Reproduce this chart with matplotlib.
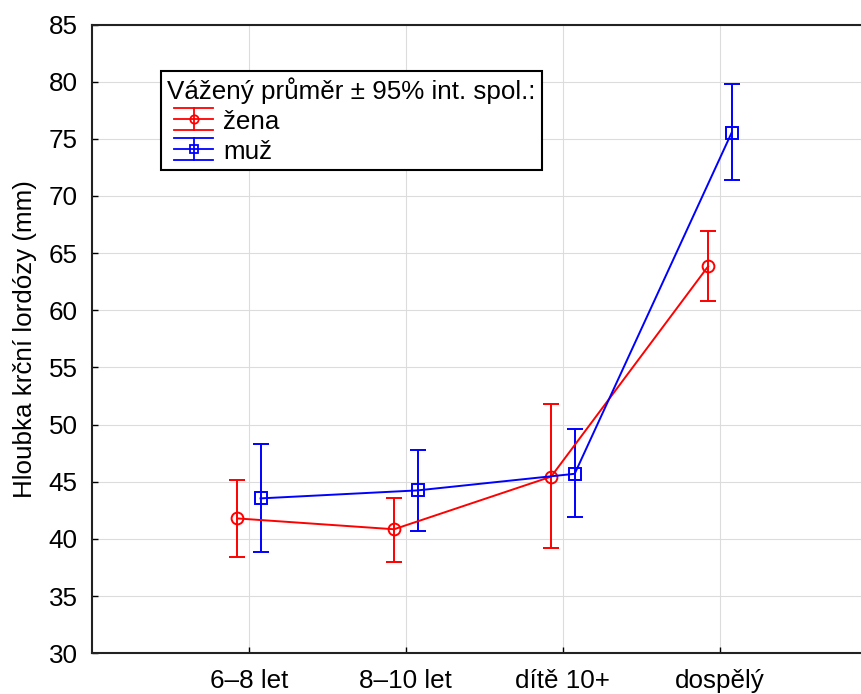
import matplotlib
matplotlib.use("Agg")
import matplotlib.pyplot as plt
from matplotlib.lines import Line2D
from matplotlib.legend_handler import HandlerBase

plt.rcParams["font.family"] = ["Liberation Sans", "DejaVu Sans"]

# věkové skupiny a vážené průměry s 95% intervaly spolehlivosti
skupiny = ["6–8 let", "8–10 let", "dítě 10+", "dospělý"]
zena_prumer = [41.8, 40.85, 45.45, 63.85]
zena_dolni = [38.4, 38.0, 39.25, 60.8]
zena_horni = [45.2, 43.6, 51.8, 66.9]
muz_prumer = [43.55, 44.25, 45.7, 75.55]
muz_dolni = [38.9, 40.7, 41.9, 71.4]
muz_horni = [48.3, 47.75, 49.6, 79.8]

FS = 18.7


class ErrHandle(HandlerBase):
    # značka v legendě: dvě čárky intervalu, střední čára, svislice a symbol
    def __init__(self, color, marker):
        super().__init__()
        self.color = color
        self.marker = marker

    def create_artists(self, legend, orig, xd, yd, w, h, fs, trans):
        arts = []
        x0 = xd + 5
        cy = yd + h / 2
        y_lo, y_hi = yd - 1, yd + h + 1
        for yy in (y_lo, cy, y_hi):
            arts.append(Line2D([x0, xd + w], [yy, yy], color=self.color, lw=1.3, transform=trans))
        cx = (x0 + xd + w) / 2
        arts.append(Line2D([cx, cx], [y_lo, y_hi], color=self.color, lw=1.3, transform=trans))
        arts.append(Line2D([cx], [cy], marker=self.marker, ms=6, mfc="none", mec=self.color,
                           mew=1.3, color=self.color, transform=trans))
        return arts


fig = plt.figure(figsize=(8.61, 6.94), dpi=100)
ax = fig.add_axes([91.7 / 861, (694 - 653.3) / 694, (877 - 91.7) / 861, (653.3 - 24.5) / 694])

x = list(range(len(skupiny)))
off = 0.075
xz = [v - off for v in x]
xm = [v + off for v in x]

err_z = [[p - d for p, d in zip(zena_prumer, zena_dolni)], [h - p for p, h in zip(zena_prumer, zena_horni)]]
err_m = [[p - d for p, d in zip(muz_prumer, muz_dolni)], [h - p for p, h in zip(muz_prumer, muz_horni)]]

ax.errorbar(xz, zena_prumer, yerr=err_z, color="#ff0000", marker="o", ms=8.5, mfc="none",
            mew=1.4, lw=1.4, elinewidth=1.4, capsize=5.5, capthick=1.4, zorder=3)
ax.errorbar(xm, muz_prumer, yerr=err_m, color="#0000ff", marker="s", ms=8, mfc="none",
            mew=1.4, lw=1.4, elinewidth=1.4, capsize=5.5, capthick=1.4, zorder=3)

ax.set_xlim(-1, 4)
ax.set_ylim(30, 85)
ax.set_yticks(range(30, 86, 5))
ax.set_xticks(x)
ax.set_xticklabels(skupiny)
ax.tick_params(direction="in", length=4, width=1, labelsize=FS, color="black")
ax.tick_params(axis="x", pad=11)
ax.tick_params(axis="y", pad=10)
ax.grid(True, color="#dcdcdc", lw=0.8)
ax.set_axisbelow(True)
for s in ax.spines.values():
    s.set_linewidth(1.5)
    s.set_color("#222222")

ax.set_ylabel("Hloubka krční lordózy (mm)", fontsize=FS, labelpad=8.5)

h1 = Line2D([], [], color="red")
h2 = Line2D([], [], color="blue")
leg = ax.legend([h1, h2], ["žena", "muž"],
                handler_map={h1: ErrHandle("#ff0000", "o"), h2: ErrHandle("#0000ff", "s")},
                title="Vážený průměr ± 95% int. spol.:", title_fontsize=FS, fontsize=FS,
                loc="upper left", bbox_to_anchor=(0.0882, 0.926), borderaxespad=0,
                fancybox=False, framealpha=1, edgecolor="black", handlelength=1.75,
                handleheight=0.75, labelspacing=0.22, borderpad=0.25, handletextpad=0.4,
                alignment="left")
leg.get_frame().set_linewidth(1.5)

fig.savefig("out.png", dpi=100)
